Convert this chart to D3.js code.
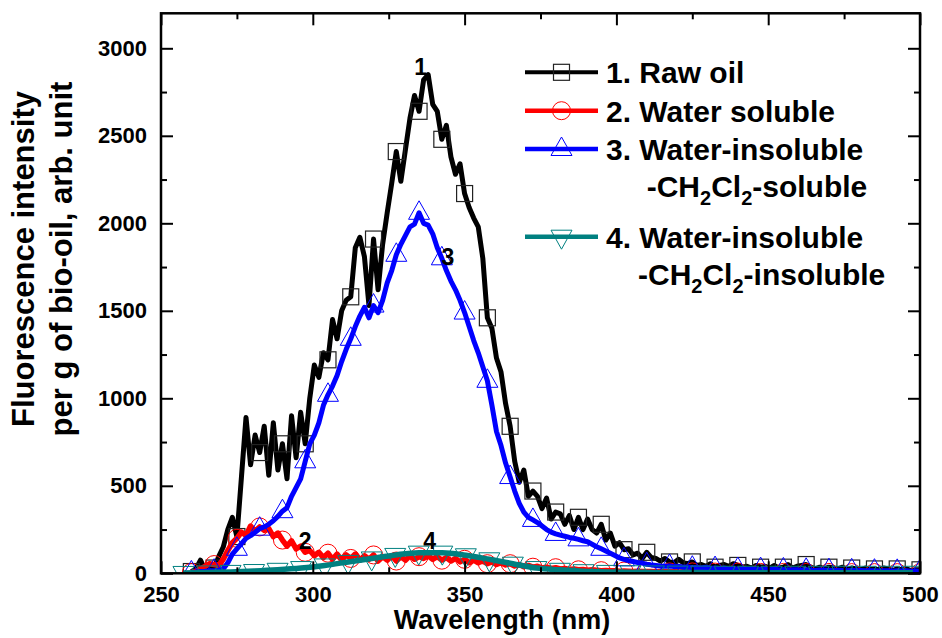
<!DOCTYPE html>
<html><head><meta charset="utf-8">
<script src="https://cdn.jsdelivr.net/npm/d3@7/dist/d3.min.js"></script>
<style>
body{margin:0;background:#fff}
text{font-family:"Liberation Sans",Arial,Helvetica,sans-serif;font-weight:bold;fill:#000}
</style>
</head><body>
<svg id="chart" width="942" height="638"></svg>
<script>
// ---------- DATA ----------
// common wavelength grid (nm) for series 1-3
const wavelengths = d3.range(161).map(i => 260 + 1.5 * i);

const rawOil = [
10,25,75,20,45,30,95,150,250,320,
210,550,890,620,790,690,840,560,860,590,
740,540,900,660,920,740,1000,1190,1120,1260,
1220,1450,1340,1500,1560,1580,1860,1920,1810,1530,
1910,1620,1880,2060,2230,2410,2240,2420,2600,2730,
2640,2820,2850,2680,2640,2480,2560,2380,2280,2340,
2170,2090,2030,1980,1800,1460,1400,1230,1150,970,
840,640,520,590,440,470,440,370,430,310,
350,340,280,330,250,320,250,310,250,230,
280,190,230,155,175,135,140,105,115,85,
120,90,85,70,85,65,60,80,60,55,
65,45,50,40,55,35,45,50,40,55,
45,35,40,30,45,35,40,30,45,30,
35,50,30,40,45,50,35,25,35,25,
35,30,25,35,20,30,25,20,30,20,
25,20,30,25,15,25,20,25,15,20,
20];

const waterSoluble = [
5,12,25,40,55,50,45,80,130,175,
200,235,215,270,240,265,245,255,210,230,
190,155,185,140,155,120,130,100,120,90,
115,80,110,75,105,85,110,75,100,80,
105,70,95,75,100,70,95,75,100,80,
95,85,100,80,95,75,90,70,85,65,
80,60,75,60,70,55,65,50,60,48,
55,42,50,38,45,35,40,30,35,28,
32,25,28,22,25,20,22,18,20,18,
15,16,14,15,12,13,12,11,12,10,
11,10,9,10,9,8,9,8,9,8,
8,7,8,7,8,7,7,6,7,6,
7,6,6,5,6,5,6,5,6,5,
5,5,5,5,5,5,5,5,5,5,
5,4,5,4,5,4,5,4,5,4,
4,4,4,4,4,4,4,4,4,4,
4];

const dcmSoluble = [
5,8,10,12,15,15,18,25,60,110,
140,170,200,215,235,255,265,280,300,325,
355,375,440,490,540,640,740,790,860,960,
1020,1070,1130,1210,1280,1340,1410,1470,1520,1460,
1530,1490,1560,1660,1730,1820,1880,1930,1980,1995,
2060,2000,1990,1940,1860,1800,1730,1670,1620,1560,
1490,1410,1330,1260,1180,1100,960,810,730,630,
550,470,400,350,320,305,290,270,250,235,
225,218,212,205,200,194,186,180,166,152,
140,128,115,102,88,80,72,67,62,58,
52,48,45,42,40,42,38,40,35,36,
32,34,30,35,28,30,26,30,25,28,
24,26,22,25,20,24,22,20,23,19,
22,18,20,21,17,20,18,16,19,17,
18,15,17,16,15,17,14,16,15,14,
15,13,15,14,12,14,13,14,12,13,
12];

// series 4 has its own (coarser) grid
const dcmInsolubleWl = d3.range(32).map(k => 257.4 + 7.75 * k);
const dcmInsoluble = [2,5,8,13,20,30,45,65,85,105,118,118,103,80,55,30,20,12,8,6,5,4,4,3,3,3,3,3,3,3,3,3];

const xTicks = [250, 300, 350, 400, 450, 500];
const yTicks = [0, 500, 1000, 1500, 2000, 2500, 3000];
const xMinor = [275, 325, 375, 425, 475];
const yMinor = [250, 750, 1250, 1750, 2250, 2750];

const seriesNames = ["1. Raw oil", "2. Water soluble", "3. Water-insoluble", "4. Water-insoluble"];
const seriesColors = ["#000000", "#ff0000", "#0000ff", "#008080"];
const curveLabels = [
  {t: "1", x: 335.5, y: 2850},
  {t: "2", x: 297.5, y: 140},
  {t: "3", x: 344.5, y: 1760},
  {t: "4", x: 338.5, y: 140}
];

// ---------- LAYOUT ----------
const svg = d3.select("#chart");
const L = 161, R = 920, T = 13.3, B = 573.3;
const x = d3.scaleLinear().domain([250, 500]).range([L, R]);
const y = d3.scaleLinear().domain([0, 3200]).range([B, T]);

const plot = svg.append("g");
svg.append("clipPath").attr("id", "clip")
  .append("rect").attr("x", L).attr("y", T - 20).attr("width", R - L).attr("height", B - T + 20);

function series(xs, ys, color, width, markerFn, markerEvery, markerStart, curve) {
  const pts = xs.map((d, i) => [d, ys[i]]);
  const line = d3.line().x(d => x(d[0])).y(d => y(d[1])).curve(curve || d3.curveLinear);
  const g = plot.append("g").attr("clip-path", "url(#clip)");
  g.append("path").attr("d", line(pts)).attr("fill", "none")
    .attr("stroke", color).attr("stroke-width", width).attr("stroke-linejoin", "round");
  const mk = pts.filter((d, i) => i >= markerStart && (i - markerStart) % markerEvery === 0);
  mk.forEach(d => markerFn(g, x(d[0]), y(d[1]), color));
}
function square(g, cx, cy, c) {
  g.append("rect").attr("x", cx - 8).attr("y", cy - 8).attr("width", 16).attr("height", 16)
    .attr("fill", "none").attr("stroke", "#222").attr("stroke-width", 1.2);
}
function circle(g, cx, cy, c) {
  g.append("circle").attr("cx", cx).attr("cy", cy).attr("r", 9)
    .attr("fill", "none").attr("stroke", c).attr("stroke-width", 1);
}
function triUp(g, cx, cy, c) {
  g.append("path").attr("d", `M${cx},${cy - 12}L${cx + 10.5},${cy + 6.5}L${cx - 10.5},${cy + 6.5}Z`)
    .attr("fill", "none").attr("stroke", c).attr("stroke-width", 1);
}
function triDown(g, cx, cy, c) {
  g.append("path").attr("d", `M${cx},${cy + 12.5}L${cx + 10.5},${cy - 6.5}L${cx - 10.5},${cy - 6.5}Z`)
    .attr("fill", "none").attr("stroke", c).attr("stroke-width", 1);
}

series(wavelengths, rawOil, seriesColors[0], 5, square, 5, 0);
series(wavelengths, waterSoluble, seriesColors[1], 5.5, circle, 5, 0);
series(wavelengths, dcmSoluble, seriesColors[2], 5, triUp, 5, 0);
series(dcmInsolubleWl, dcmInsoluble, seriesColors[3], 5.5, triDown, 1, 0, d3.curveMonotoneX);

curveLabels.forEach(d => {
  svg.append("text").attr("x", x(d.x)).attr("y", y(d.y)).attr("text-anchor", "middle")
    .attr("font-size", 23).text(d.t);
});

svg.append("rect").attr("x", L).attr("y", T).attr("width", R - L).attr("height", B - T)
  .attr("fill", "none").attr("stroke", "#000").attr("stroke-width", 2.5);

function styleAxis(g) {
  g.select(".domain").remove();
  g.selectAll(".tick line").attr("stroke", "#000").attr("stroke-width", 2);
  g.selectAll(".tick text").attr("font-size", 22).attr("fill", "#000")
    .style("font-family", '"Liberation Sans",Arial,sans-serif').style("font-weight", "bold");
}
svg.append("g").attr("transform", `translate(0,${B})`)
  .call(d3.axisBottom(x).tickValues(xTicks).tickFormat(d3.format("d")).tickSize(-12).tickPadding(13)).call(styleAxis);
svg.append("g").attr("transform", `translate(0,${B})`)
  .call(d3.axisBottom(x).tickValues(xMinor).tickFormat("").tickSize(-6)).call(styleAxis);
svg.append("g").attr("transform", `translate(0,${T})`)
  .call(d3.axisTop(x).tickValues(xTicks).tickFormat("").tickSize(-12)).call(styleAxis);
svg.append("g").attr("transform", `translate(0,${T})`)
  .call(d3.axisTop(x).tickValues(xMinor).tickFormat("").tickSize(-6)).call(styleAxis);
svg.append("g").attr("transform", `translate(${L},0)`)
  .call(d3.axisLeft(y).tickValues(yTicks).tickFormat(d3.format("d")).tickSize(-12).tickPadding(14)).call(styleAxis);
svg.append("g").attr("transform", `translate(${L},0)`)
  .call(d3.axisLeft(y).tickValues(yMinor).tickFormat("").tickSize(-6)).call(styleAxis);
svg.append("g").attr("transform", `translate(${R},0)`)
  .call(d3.axisRight(y).tickValues(yTicks).tickFormat("").tickSize(-12)).call(styleAxis);
svg.append("g").attr("transform", `translate(${R},0)`)
  .call(d3.axisRight(y).tickValues(yMinor).tickFormat("").tickSize(-6)).call(styleAxis);

svg.append("text").attr("x", 502).attr("y", 629).attr("text-anchor", "middle")
  .attr("font-size", 27).text("Wavelength (nm)");
const yt = svg.append("g").attr("transform", "translate(0,259) rotate(-90)");
yt.append("text").attr("x", 0).attr("y", 34).attr("text-anchor", "middle").attr("font-size", 31)
  .text("Fluorescence intensity");
yt.append("text").attr("x", 0).attr("y", 72).attr("text-anchor", "middle").attr("font-size", 31)
  .text("per g of bio-oil, arb. unit");

const legRows = [72.3, 110.7, 149, 236.7];
const legMarkers = [square, circle, triUp, triDown];
const lg = svg.append("g");
seriesNames.forEach((name, i) => {
  const cy = legRows[i];
  lg.append("line").attr("x1", 525).attr("x2", 598).attr("y1", cy).attr("y2", cy)
    .attr("stroke", seriesColors[i]).attr("stroke-width", i === 0 ? 4 : 4.5);
  legMarkers[i](lg, 561.5, cy, seriesColors[i]);
  lg.append("text").attr("x", 606).attr("y", cy + 11).attr("font-size", 30).text(name);
});
function dcmLine(xPos, yPos, tail) {
  const t = lg.append("text").attr("x", xPos).attr("y", yPos).attr("font-size", 30);
  t.append("tspan").text("-CH");
  t.append("tspan").attr("font-size", 20).attr("dy", 8).text("2");
  t.append("tspan").attr("dy", -8).text("Cl");
  t.append("tspan").attr("font-size", 20).attr("dy", 8).text("2");
  t.append("tspan").attr("dy", -8).text(tail);
}
dcmLine(646.7, 196.7, "-soluble");
dcmLine(638, 285, "-insoluble");
</script>
</body></html>
